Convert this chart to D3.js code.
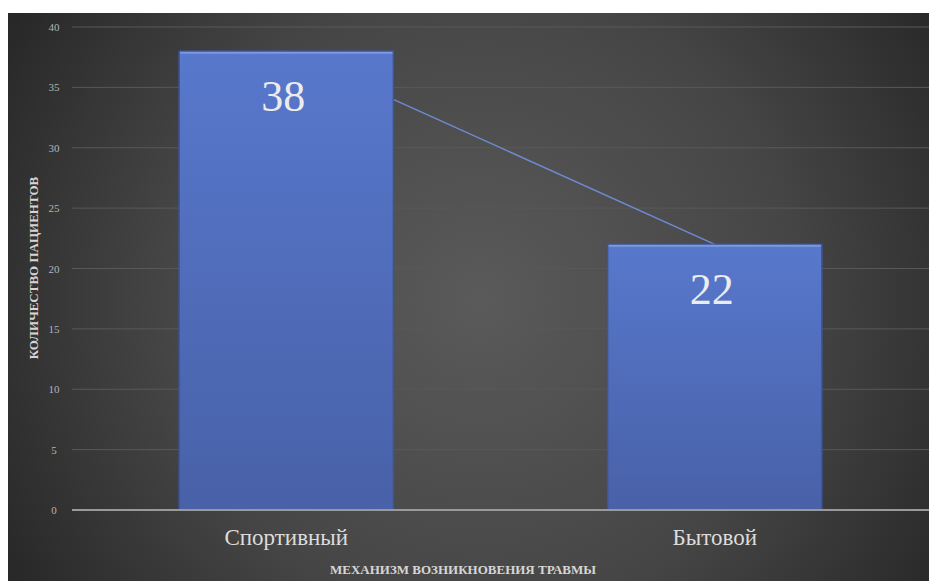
<!DOCTYPE html>
<html>
<head>
<meta charset="utf-8">
<script src="https://cdn.jsdelivr.net/npm/d3@7"></script>
<style>
  body { margin: 0; background: #fff; }
  svg { display: block; }
</style>
</head>
<body>
<svg id="chart" width="929" height="581"></svg>
<script>
// data
var categories = ["Спортивный", "Бытовой"];
var patients = [38, 22];
var yTicks = [0, 5, 10, 15, 20, 25, 30, 35, 40];
var yTitle = "КОЛИЧЕСТВО ПАЦИЕНТОВ";
var xTitle = "МЕХАНИЗМ ВОЗНИКНОВЕНИЯ ТРАВМЫ";

var svg = d3.select("#chart");
var defs = svg.append("defs");

// dark background, lighter in the middle
var bg = defs.append("radialGradient")
    .attr("id", "bgGrad")
    .attr("gradientUnits", "userSpaceOnUse")
    .attr("cx", 480).attr("cy", 300).attr("r", 560);
bg.append("stop").attr("offset", "0%").attr("stop-color", "#5a5a5a");
bg.append("stop").attr("offset", "55%").attr("stop-color", "#464646");
bg.append("stop").attr("offset", "100%").attr("stop-color", "#262626");

var barGrad = defs.append("linearGradient")
    .attr("id", "barGrad")
    .attr("x1", 0).attr("y1", 0).attr("x2", 0).attr("y2", 1);
barGrad.append("stop").attr("offset", "0%").attr("stop-color", "#5878cc");
barGrad.append("stop").attr("offset", "100%").attr("stop-color", "#4861a8");

svg.append("rect")
    .attr("x", 8).attr("y", 13)
    .attr("width", 921).attr("height", 568)
    .attr("fill", "url(#bgGrad)");

var plotLeft = 72, plotRight = 929, plotTop = 27, plotBottom = 510;

var x = d3.scaleBand()
    .domain(categories)
    .range([plotLeft, plotRight])
    .paddingInner(0.5)
    .paddingOuter(0.25);

var y = d3.scaleLinear()
    .domain([0, 40])
    .range([plotBottom, plotTop]);

// gridlines
svg.append("g")
    .selectAll("line")
    .data(yTicks.filter(function(d){ return d > 0; }))
    .enter()
    .append("line")
    .attr("x1", plotLeft).attr("x2", plotRight)
    .attr("y1", function(d){ return y(d); })
    .attr("y2", function(d){ return y(d); })
    .attr("stroke", "#585858")
    .attr("stroke-width", 1);

// y axis labels
var yAxis = d3.axisLeft(y).tickValues(yTicks).tickSize(0).tickPadding(0);
var yg = svg.append("g")
    .attr("transform", "translate(" + 59 + ",0)")
    .call(yAxis);
yg.select(".domain").remove();
yg.selectAll("text")
    .attr("fill", "#b5b5b5")
    .style("font-family", "'Liberation Serif', serif")
    .style("font-size", "11px")
    .attr("text-anchor", "middle")
    .attr("x", -5);

// line series behind the bars
var line = d3.line()
    .x(function(d, i){ return x(categories[i]) + x.bandwidth() / 2; })
    .y(function(d){ return y(d); });

svg.append("path")
    .datum(patients)
    .attr("d", line)
    .attr("fill", "none")
    .attr("stroke", "#6d8ad2")
    .attr("stroke-width", 1.5);

// bars
var bars = svg.append("g")
    .selectAll("g")
    .data(patients)
    .enter()
    .append("g");

bars.append("rect")
    .attr("x", function(d, i){ return x(categories[i]); })
    .attr("y", function(d){ return y(d); })
    .attr("width", x.bandwidth())
    .attr("height", function(d){ return plotBottom - y(d); })
    .attr("fill", "url(#barGrad)")
    .attr("stroke", "#3f5596")
    .attr("stroke-width", 1.5);

// light top edge
bars.append("line")
    .attr("x1", function(d, i){ return x(categories[i]) + 1; })
    .attr("x2", function(d, i){ return x(categories[i]) + x.bandwidth() - 1; })
    .attr("y1", function(d){ return y(d) + 1.5; })
    .attr("y2", function(d){ return y(d) + 1.5; })
    .attr("stroke", "#7d98e0")
    .attr("stroke-width", 2);

bars.append("text")
    .attr("x", function(d, i){ return x(categories[i]) + x.bandwidth() / 2 - 3; })
    .attr("y", function(d){ return y(d) + 60; })
    .attr("text-anchor", "middle")
    .attr("fill", "#ececec")
    .style("font-family", "'Liberation Serif', serif")
    .style("font-size", "44px")
    .text(function(d){ return d; });

// zero axis line
svg.append("line")
    .attr("x1", plotLeft).attr("x2", plotRight)
    .attr("y1", y(0)).attr("y2", y(0))
    .attr("stroke", "#9a9a9a")
    .attr("stroke-width", 2);

// category labels
var xAxis = d3.axisBottom(x).tickSize(0).tickPadding(0);
var xg = svg.append("g")
    .attr("transform", "translate(0," + 529 + ")")
    .call(xAxis);
xg.select(".domain").remove();
xg.selectAll("text")
    .attr("fill", "#dcdcdc")
    .style("font-family", "'Liberation Serif', serif")
    .style("font-size", "23px");

// axis titles
svg.append("text")
    .attr("x", 463).attr("y", 574)
    .attr("text-anchor", "middle")
    .attr("fill", "#d6d6d6")
    .style("font-family", "'Liberation Serif', serif")
    .style("font-size", "13px")
    .style("font-weight", "bold")
    .text(xTitle);

svg.append("text")
    .attr("transform", "translate(" + 38 + "," + 268 + ") rotate(-90)")
    .attr("text-anchor", "middle")
    .attr("fill", "#d6d6d6")
    .style("font-family", "'Liberation Serif', serif")
    .style("font-size", "13px")
    .style("font-weight", "bold")
    .text(yTitle);
</script>
</body>
</html>
